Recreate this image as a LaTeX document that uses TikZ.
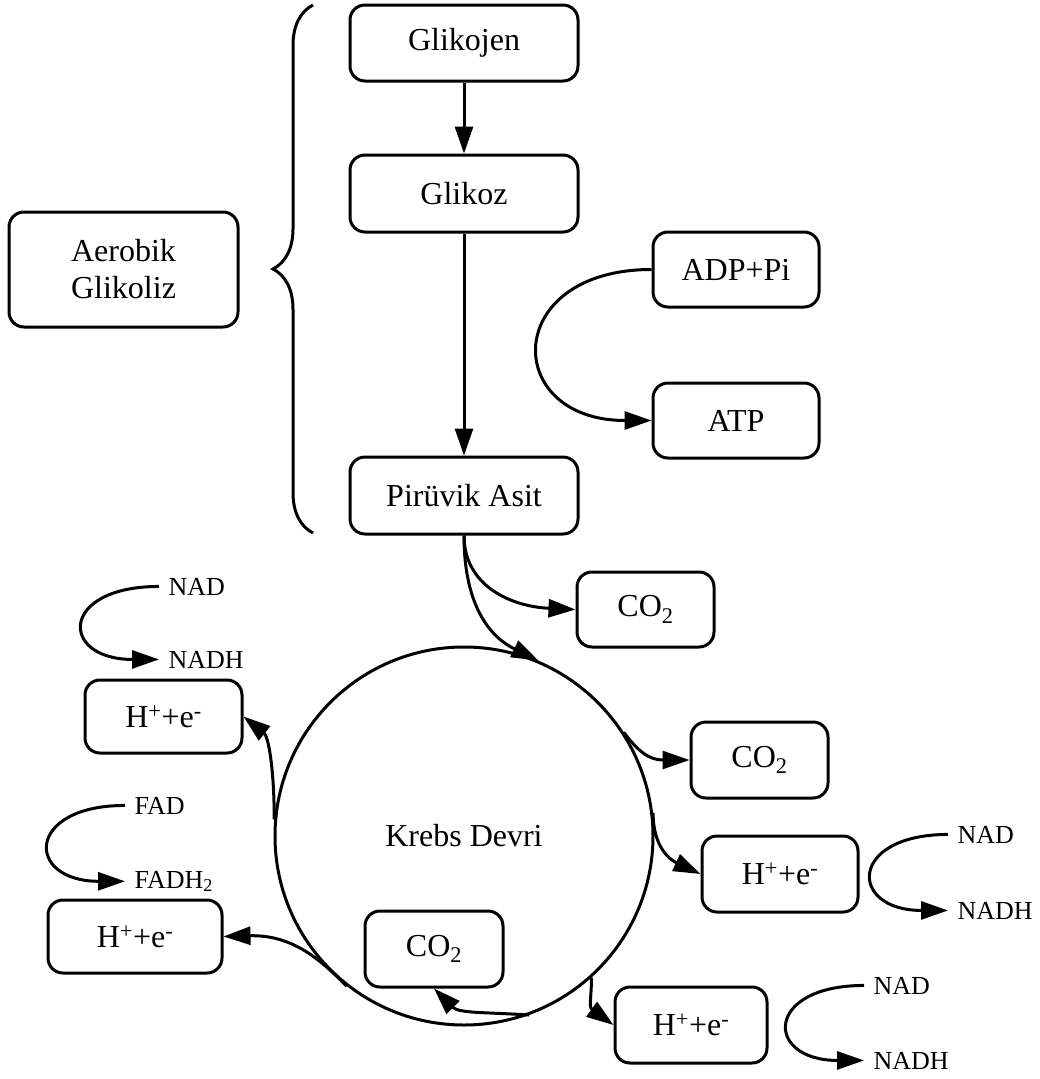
\documentclass[tikz,border=0pt]{standalone}
\usepackage{fontspec}
\setmainfont{Liberation Serif}
\usetikzlibrary{shapes}
\usetikzlibrary{arrows.meta}
\usetikzlibrary{decorations.pathreplacing}

\begin{document}
\begin{tikzpicture}[x = 1pt, y = -1pt, line width = 3pt,
	box/.style = {draw, rounded corners = 15pt, align = center, inner sep = 0pt, font = \fontsize{32}{37}\selectfont},
	small/.style = {anchor = base west, inner sep = 0pt, inner xsep = 8pt, font = \fontsize{26}{30}\selectfont},
	arr/.style = {-{Triangle[length = 27pt, width = 18pt]}}]

	\useasboundingbox (0,0) rectangle (1040,1079);

	\node [box, minimum width = 228pt, minimum height = 76pt] (glikojen) at (464,43) {Glikojen};
	\node [box, minimum width = 228pt, minimum height = 77pt] (glikoz) at (464,193.5) {Glikoz};
	\node [box, minimum width = 228pt, minimum height = 77pt] (piruvik) at (464,495.5) {Pirüvik Asit};
	\node [box, minimum width = 166pt, minimum height = 75pt] (adp) at (736,269.5) {ADP+Pi};
	\node [box, minimum width = 166pt, minimum height = 75pt] (atp) at (736,420.5) {ATP};
	\node [box, minimum width = 229pt, minimum height = 115pt] (aerobik) at (123.5,269.5) {Aerobik\\Glikoliz};
	\draw [decorate, decoration = {brace, amplitude = 40pt}] (313,533) -- (313,5);

	\node [circle, draw, minimum size = 378pt, inner sep = 0pt, font = \fontsize{32}{37}\selectfont] (krebs) at (464,836) {Krebs Devri};
	\node [box, minimum width = 137pt, minimum height = 75pt] (co2a) at (645.5,609.5) {CO\textsubscript{2}};
	\node [box, minimum width = 137pt, minimum height = 76pt] (co2b) at (759.5,760) {CO\textsubscript{2}};
	\node [box, minimum width = 138pt, minimum height = 76pt] (co2c) at (434,949) {CO\textsubscript{2}};
	\node [box, minimum width = 156pt, minimum height = 76pt] (hre) at (780,874) {H\textsuperscript{+}+e\textsuperscript{-}};
	\node [box, minimum width = 152pt, minimum height = 76pt] (hrb) at (691,1025) {H\textsuperscript{+}+e\textsuperscript{-}};
	\node [box, minimum width = 157pt, minimum height = 73pt] (hlt) at (163.5,716.5) {H\textsuperscript{+}+e\textsuperscript{-}};
	\node [box, minimum width = 174pt, minimum height = 73pt] (hlb) at (135,936.5) {H\textsuperscript{+}+e\textsuperscript{-}};

	\node [small] (nad1) at (159,595) {NAD};
	\node [small] (nadh1) at (159,668) {NADH};
	\node [small] (fad) at (125,814) {FAD};
	\node [small] (fadh) at (125,888) {FADH\textsubscript{2}};
	\node [small] (nad2) at (948,843) {NAD};
	\node [small] (nadh2) at (948,919) {NADH};
	\node [small] (nad3) at (864,994) {NAD};
	\node [small] (nadh3) at (864,1069) {NADH};

	\draw [arr] (glikojen) -- (glikoz);
	\draw [arr] (glikoz) -- (piruvik);
	\draw [arr] (adp.west) .. controls +(-150,0) and +(-150,0) .. (atp.west);
	\draw [arr] (piruvik.south) .. controls +(0,50) and +(-65,-3) .. (co2a.west);
	\draw [arr] (piruvik.south) .. controls +(0,75) and +(-45,-22) .. (krebs.67);

	\draw [arr] (krebs.33) .. controls +(15,20) and +(-40,0) .. (co2b.west);
	\draw [arr] (krebs.7) .. controls +(0,35) and +(-30,-14) .. (hre.west);
	\draw [arr] (krebs.-48) .. controls +(0,20) and +(-25,-18) .. (hrb.west);
	\draw [arr] (krebs.-70) .. controls +(-45,-3) and +(25,25) .. (co2c.south);
	\draw [arr] (krebs.-128) .. controls +(-25,-25) and +(70,-2) .. (hlb.east);
	\draw [arr] (krebs.175) .. controls +(0,-50) and +(25,20) .. (hlt.east);

	\draw [arr] (nad1.west) .. controls +(-100,0) and +(-100,0) .. (nadh1.west);
	\draw [arr] (fad.west) .. controls +(-100,0) and +(-100,0) .. (fadh.west);
	\draw [arr] (nad2.west) .. controls +(-100,0) and +(-100,0) .. (nadh2.west);
	\draw [arr] (nad3.west) .. controls +(-100,0) and +(-100,0) .. (nadh3.west);

\end{tikzpicture}
\end{document}
